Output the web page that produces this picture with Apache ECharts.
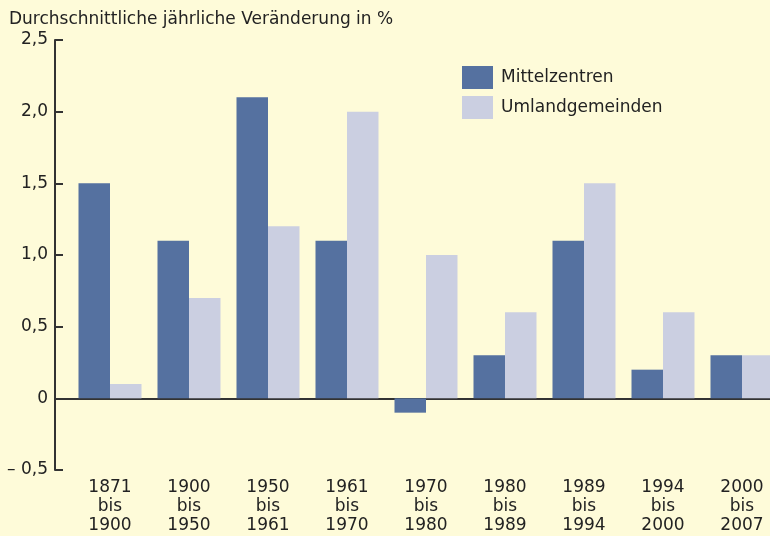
<!DOCTYPE html>
<html>
<head>
<meta charset="utf-8">
<script src="https://cdn.jsdelivr.net/npm/echarts@6/dist/echarts.min.js"></script>
<style>
  html, body { margin: 0; padding: 0; background: #fefbd9; }
  #chart { width: 770px; height: 536px; }
</style>
</head>
<body>
<div id="chart"></div>
<script>
var periods = ['1871 bis 1900', '1900 bis 1950', '1950 bis 1961', '1961 bis 1970', '1970 bis 1980',
    '1980 bis 1989', '1989 bis 1994', '1994 bis 2000', '2000 bis 2007'];
var mittelzentren = [1.5, 1.1, 2.1, 1.1, -0.1, 0.3, 1.1, 0.2, 0.3];
var umland = [0.1, 0.7, 1.2, 2.0, 1.0, 0.6, 1.5, 0.6, 0.3];
var yTicks = { min: -0.5, max: 2.5, step: 0.5 };

var font = '"DejaVu Sans", sans-serif';
var ink = '#222';

var chart = echarts.init(document.getElementById('chart'));
chart.setOption({
    backgroundColor: '#fefbd9',
    animation: false,
    title: {
        text: 'Durchschnittliche jährliche Veränderung in %',
        left: 4,
        top: 6,
        textStyle: { fontFamily: font, fontSize: 17, fontWeight: 'normal', color: ink }
    },
    legend: {
        orient: 'vertical',
        left: 457,
        top: 61,
        icon: 'rect',
        itemWidth: 31,
        itemHeight: 23,
        itemGap: 7,
        textStyle: { fontFamily: font, fontSize: 17, color: ink, padding: [0, 0, 0, 3] },
        data: ['Mittelzentren', 'Umlandgemeinden']
    },
    grid: [
        // axis frame: y axis and zero line
        { left: 55, right: 0, top: 40, bottom: 66, outerBoundsMode: 'none' },
        // bars, the last group runs past the right edge
        { left: 70.5, width: 711, top: 40, bottom: 66, outerBoundsMode: 'none' }
    ],
    xAxis: [{
        gridIndex: 0,
        type: 'value',
        min: 0,
        max: 1,
        axisLine: { onZero: true, lineStyle: { color: '#333', width: 2 } },
        axisTick: { show: false },
        axisLabel: { show: false },
        splitLine: { show: false }
    }, {
        gridIndex: 1,
        type: 'category',
        data: periods,
        axisLine: { show: false },
        axisTick: { show: false },
        axisLabel: {
            margin: 8,
            fontFamily: font,
            fontSize: 17,
            lineHeight: 19,
            color: ink,
            formatter: function (v) { return v.split(' ').join('\n'); }
        }
    }],
    yAxis: [{
        gridIndex: 0,
        type: 'value',
        min: yTicks.min,
        max: yTicks.max,
        interval: yTicks.step,
        axisLine: { show: true, onZero: false, lineStyle: { color: '#333', width: 2 } },
        axisTick: { show: true, inside: true, length: 8, lineStyle: { color: '#333', width: 2 } },
        splitLine: { show: false },
        axisLabel: {
            margin: 7,
            fontFamily: font,
            fontSize: 17,
            color: ink,
            formatter: function (v) {
                var s = Math.abs(v).toFixed(1).replace('.', ',');
                if (v === 0) s = '0';
                return v < 0 ? '– ' + s : s;
            }
        }
    }, {
        gridIndex: 1,
        type: 'value',
        min: yTicks.min,
        max: yTicks.max,
        show: false
    }],
    series: [{
        name: 'Mittelzentren',
        type: 'bar',
        xAxisIndex: 1,
        yAxisIndex: 1,
        barWidth: 31.5,
        barGap: '0%',
        itemStyle: { color: '#5571a0' },
        data: mittelzentren
    }, {
        name: 'Umlandgemeinden',
        type: 'bar',
        xAxisIndex: 1,
        yAxisIndex: 1,
        barWidth: 31.5,
        barGap: '0%',
        itemStyle: { color: '#cbcfe1' },
        data: umland
    }]
});
</script>
</body>
</html>
